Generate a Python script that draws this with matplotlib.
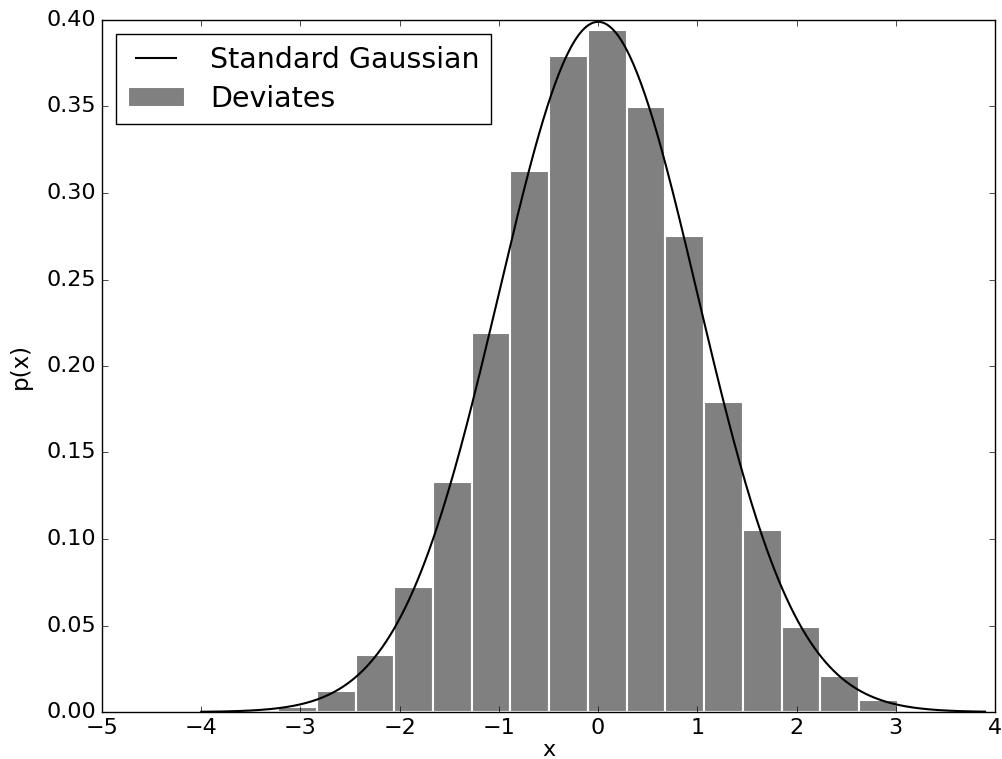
import numpy as np
import matplotlib
matplotlib.use('Agg')
import matplotlib.pyplot as plt

# histogram of deviates
bin_edges = np.linspace(-3.225, 3.02, 17)
densities = [0.003, 0.012, 0.033, 0.072, 0.133, 0.219, 0.313, 0.379,
             0.394, 0.350, 0.275, 0.179, 0.105, 0.049, 0.021, 0.007]

# the standard Gaussian curve
x_curve = np.linspace(-4, 3.9, 400)
y_curve = np.exp(-x_curve**2 / 2) / np.sqrt(2 * np.pi)

plt.style.use('classic')
fig = plt.figure(figsize=(10.02, 7.59), dpi=100, facecolor='white')
ax = fig.add_axes([102 / 1002, 47 / 759, 893 / 1002, 692 / 759])

ax.plot(x_curve, y_curve, color='black', lw=1.5, label='Standard Gaussian')
ax.bar(bin_edges[:-1], densities, width=np.diff(bin_edges), align='edge',
       color='0.5', edgecolor='white', lw=1.5, label='Deviates')

ax.set_xlim(-5, 4)
ax.set_ylim(0, 0.40)
ax.set_yticks(np.arange(0, 0.401, 0.05))
ax.yaxis.set_major_formatter(matplotlib.ticker.FormatStrFormatter('%.2f'))
ax.tick_params(labelsize=16)
ax.set_xlabel('x', fontsize=16, labelpad=2)
ax.set_ylabel('p(x)', fontsize=16.5, labelpad=11)

ax.legend(loc='upper left', fontsize=20.5, handlelength=2.0,
          handletextpad=0.9, labelspacing=0.4, borderaxespad=0.5)

fig.savefig('out.png', dpi=100, facecolor='white')
